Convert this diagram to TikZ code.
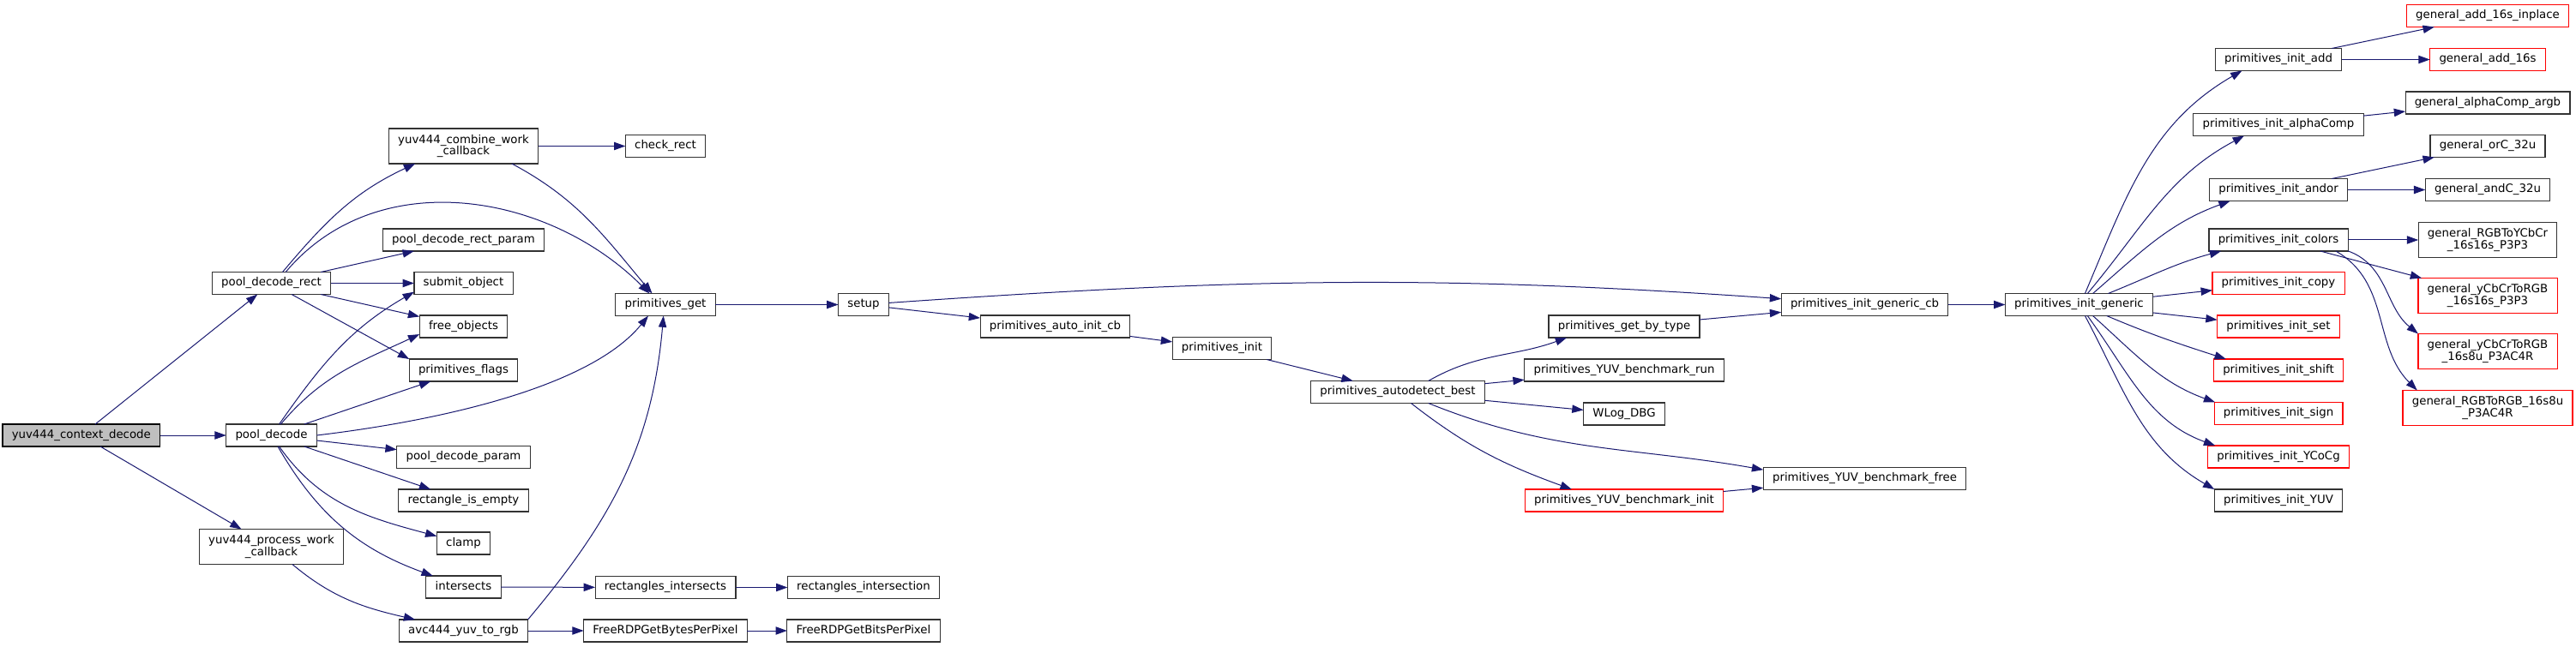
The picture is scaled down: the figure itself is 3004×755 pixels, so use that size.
\documentclass[tikz,border=0pt]{standalone}
\usepackage{fontspec}
\setmainfont{DejaVu Sans}
\usepackage{tikz}
\usetikzlibrary{arrows.meta,calc}
\definecolor{midnight}{HTML}{191970}
\definecolor{nodeborder}{HTML}{333333}
\definecolor{rootfill}{HTML}{BFBFBF}
\tikzset{
	box/.style={draw=nodeborder, line width=0.85pt, fill=white, inner xsep=8.1pt, inner ysep=0pt, outer sep=0pt, align=center, font=\fontsize{10}{10.2}\selectfont},
	fn/.style={box, minimum height=19.5pt, text height=7.4pt, text depth=2.3pt},
	fntwo/.style={box, minimum height=30.75pt},
	trunc/.style={draw=red},
	root/.style={fill=rootfill, draw=black},
	call/.style={draw=midnight, line width=0.75pt, -{Triangle[length=10pt,width=7pt]}}
}
\begin{document}
\begin{tikzpicture}[x=0.75pt,y=0.75pt]
			\useasboundingbox (0,0) rectangle (3004,-755);
			\fill[white] (0,0) rectangle (3004,-755);
			% caller and first level
			\node[fn,root] (ctx) at (94.8,-508) {yuv444\_context\_decode};
			\node[fn] (pdr) at (316.5,-330.5) {pool\_decode\_rect};
			\node[fn] (pd) at (316.5,-508) {pool\_decode};
			\node[fntwo] (pwc) at (316.5,-638) {yuv444\_process\_work\\\_callback};
			% second level
			\node[fntwo] (cwc) at (540.5,-170.5) {yuv444\_combine\_work\\\_callback};
			\node[fn] (rp) at (540.5,-280) {pool\_decode\_rect\_param};
			\node[fn] (so) at (540.5,-330.5) {submit\_object};
			\node[fn] (fo) at (540.5,-381) {free\_objects};
			\node[fn] (pf) at (540.5,-432) {primitives\_flags};
			\node[fn] (pdp) at (540.5,-533.5) {pool\_decode\_param};
			\node[fn] (rie) at (540.5,-584) {rectangle\_is\_empty};
			\node[fn] (cl) at (540.5,-634) {clamp};
			\node[fn] (isx) at (540.5,-685) {intersects};
			\node[fn] (avc) at (540.5,-736) {avc444\_yuv\_to\_rgb};
			% third and fourth level
			\node[fn] (chk) at (776,-170.5) {check\_rect};
			\node[fn] (pget) at (776,-355.5) {primitives\_get};
			\node[fn] (risx) at (776,-685.5) {rectangles\_intersects};
			\node[fn] (bpp) at (776,-736) {FreeRDPGetBytesPerPixel};
			\node[fn] (setup) at (1007,-355.5) {setup};
			\node[fn] (risn) at (1007,-685.5) {rectangles\_intersection};
			\node[fn] (bits) at (1007,-736) {FreeRDPGetBitsPerPixel};
			% primitives chain
			\node[fn] (aic) at (1230.5,-381) {primitives\_auto\_init\_cb};
			\node[fn] (pinit) at (1425,-406.5) {primitives\_init};
			\node[fn] (adb) at (1630,-457.5) {primitives\_autodetect\_best};
			\node[fn] (gbt) at (1894,-381) {primitives\_get\_by\_type};
			\node[fn] (brun) at (1894,-432) {primitives\_YUV\_benchmark\_run};
			\node[fn] (wlog) at (1894,-483) {WLog\_DBG};
			\node[fn,trunc] (binit) at (1894,-584) {primitives\_YUV\_benchmark\_init};
			\node[fn] (gcb) at (2174.5,-355.5) {primitives\_init\_generic\_cb};
			\node[fn] (bfree) at (2174.5,-558.5) {primitives\_YUV\_benchmark\_free};
			\node[fn] (gen) at (2424.5,-355.5) {primitives\_init\_generic};
			% init functions
			\node[fn] (iadd) at (2657,-69.5) {primitives\_init\_add};
			\node[fn] (ialpha) at (2657,-145.5) {primitives\_init\_alphaComp};
			\node[fn] (iandor) at (2657,-221.5) {primitives\_init\_andor};
			\node[fn] (icolors) at (2657,-280) {primitives\_init\_colors};
			\node[fn,trunc] (icopy) at (2657,-330.5) {primitives\_init\_copy};
			\node[fn,trunc] (iset) at (2657,-381) {primitives\_init\_set};
			\node[fn,trunc] (ishift) at (2657,-432) {primitives\_init\_shift};
			\node[fn,trunc] (isign) at (2657,-482.5) {primitives\_init\_sign};
			\node[fn,trunc] (iycocg) at (2657,-533) {primitives\_init\_YCoCg};
			\node[fn] (iyuv) at (2657,-584) {primitives\_init\_YUV};
			% generic implementations
			\node[fn,trunc] (ginplace) at (2901,-18.5) {general\_add\_16s\_inplace};
			\node[fn,trunc] (gadd) at (2901,-69.5) {general\_add\_16s};
			\node[fn] (gargb) at (2901,-120) {general\_alphaComp\_argb};
			\node[fn] (gor) at (2901,-170.5) {general\_orC\_32u};
			\node[fn] (gand) at (2901,-221.5) {general\_andC\_32u};
			\node[fntwo] (grgbycc) at (2901,-280) {general\_RGBToYCbCr\\\_16s16s\_P3P3};
			\node[fntwo,trunc] (gycc1) at (2901,-345) {general\_yCbCrToRGB\\\_16s16s\_P3P3};
			\node[fntwo,trunc] (gycc2) at (2901,-410) {general\_yCbCrToRGB\\\_16s8u\_P3AC4R};
			\node[fntwo,trunc] (grgbrgb) at (2901,-476) {general\_RGBToRGB\_16s8u\\\_P3AC4R};
			% calls
			\draw[call] (ctx) -- (pdr);
			\draw[call] (ctx) -- (pd);
			\draw[call] (ctx) -- (pwc);
			\draw[call] (pdr.45) to[out=50,in=205] (cwc.200);
			\draw[call] (pdr.38) to[out=50,in=135] (pget.145);
			\draw[call] (pdr) -- (rp);
			\draw[call] (pdr) -- (so);
			\draw[call] (pdr) -- (fo);
			\draw[call] (pdr) -- (pf.north west);
			\draw[call] (cwc) -- (chk);
			\draw[call] (cwc.-20) to[out=-28,in=130] (pget.140);
			\draw[call] (pd) to[out=55,in=210] (so.190);
			\draw[call] (pd) to[out=50,in=205] (fo.190);
			\draw[call] (pd) -- (pf);
			\draw[call] (pd.east) .. controls (520,-490) and (690,-450) .. (pget.-147);
			\draw[call] (pd) -- (pdp);
			\draw[call] (pd) -- (rie);
			\draw[call] (pd) to[out=-55,in=165] (cl);
			\draw[call] (pd) to[out=-60,in=160] (isx);
			\draw[call] (pwc) to[out=-40,in=167] (avc);
			\draw[call] (isx) -- (risx);
			\draw[call] (risx) -- (risn);
			\draw[call] (avc) -- (bpp);
			\draw[call] (bpp) -- (bits);
			\draw[call] (avc.north east) to[out=50,in=-95] (pget.-100);
			\draw[call] (pget) -- (setup);
			\draw[call] (setup) to[out=4,in=176] (gcb);
			\draw[call] (setup) -- (aic);
			\draw[call] (aic) -- (pinit);
			\draw[call] (pinit) -- (adb);
			\draw[call] (adb.20) to[out=30,in=200] (gbt.191);
			\draw[call] (adb) -- (brun);
			\draw[call] (adb) -- (wlog);
			\draw[call] (adb.-20) to[out=-22,in=170] (bfree.175);
			\draw[call] (adb.-40) to[out=-38,in=160] (binit.168);
			\draw[call] (binit) -- (bfree);
			\draw[call] (gbt) -- (gcb);
			\draw[call] (gcb) -- (gen);
			\draw[call] (gen.62) to[out=67,in=210] (iadd.197);
			\draw[call] (gen.53) to[out=50,in=208] (ialpha.198);
			\draw[call] (gen.39) to[out=41,in=200] (iandor.193);
			\draw[call] (gen.21) to[out=22,in=195] (icolors.191);
			\draw[call] (gen) -- (icopy);
			\draw[call] (gen) -- (iset);
			\draw[call] (gen.-22) to[out=-23,in=162] (ishift.168);
			\draw[call] (gen.-39) to[out=-42,in=160] (isign.170);
			\draw[call] (gen.-53) to[out=-54,in=160] (iycocg.170);
			\draw[call] (gen.-62) to[out=-62,in=150] (iyuv.north west);
			\draw[call] (iadd) -- (ginplace);
			\draw[call] (iadd) -- (gadd);
			\draw[call] (ialpha) -- (gargb);
			\draw[call] (iandor) -- (gor);
			\draw[call] (iandor) -- (gand);
			\draw[call] (icolors) -- (grgbycc);
			\draw[call] (icolors) -- (gycc1);
			\draw[call] (icolors.-9) to[out=-20,in=141] (gycc2.north west);
			\draw[call] (icolors.-11) to[out=-30,in=135] (grgbrgb.166);
\end{tikzpicture}
\end{document}
